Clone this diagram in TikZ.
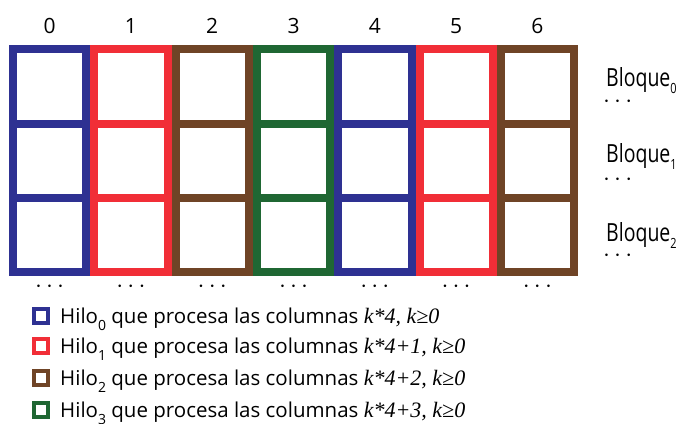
\documentclass[tikz,border=0pt]{standalone}
\usepackage{fontspec}
\setmainfont{Open Sans}
\newfontfamily\formula{Liberation Serif}
\newfontfamily\narrowfont[FakeStretch=0.78]{Open Sans}
\definecolor{hblue}{HTML}{2E3192}
\definecolor{hred}{HTML}{F12E37}
\definecolor{hbrown}{HTML}{6F4426}
\definecolor{hgreen}{HTML}{1F6733}
\tikzset{
  colframe/.style={line width=8pt, draw=#1},
  legendbox/.style={draw=#1, line width=4pt, minimum size=14pt, inner sep=0pt},
  idx/.style={font=\fontsize{21}{21}\selectfont, inner sep=0pt},
  dots/.style={font=\fontsize{30}{30}\selectfont, inner sep=0pt},
  blkdots/.style={dots, anchor=base west},
  blk/.style={font=\narrowfont\fontsize{25}{25}\selectfont, anchor=base west, inner sep=0pt},
  leg/.style={font=\fontsize{20.5}{20.5}\selectfont, anchor=base west, inner sep=0pt},
}
\newcommand{\lowsub}[2]{#1\raisebox{-7pt}{\fontsize{14}{14}\selectfont #2}}
\newcommand{\formtxt}[1]{{\formula\itshape\fontsize{22}{22}\selectfont #1}}
\begin{document}
\begin{tikzpicture}[x=1pt,y=-1pt]
\useasboundingbox (0,0) rectangle (679,423);
% one framed column of three cells per thread colour
\foreach \c [count=\i from 0] in {hblue,hred,hbrown,hgreen,hblue,hred,hbrown}{
  \pgfmathsetmacro\xa{9+81.3*\i+4}
  \pgfmathsetmacro\xb{9+81.3*(\i+1)-4}
  \pgfmathsetmacro\xm{9+81.3*\i+40.65}
  \draw[colframe=\c] (\xa,49) rectangle (\xb,272);
  \draw[colframe=\c] (\xa,123.7) -- (\xb,123.7);
  \draw[colframe=\c] (\xa,198) -- (\xb,198);
  \node[idx] (col\i) at (\xm,26) {\i};
  \node[dots] (more\i) at (\xm,287) {$\cdots$};
}
% block labels, each with its continuation dots below
\node[blk] (b0) at (606,86) {\lowsub{Bloque}{0}};
\node[blkdots] (bd0) at (603,107) {\smash{$\cdots$}};
\node[blk] (b1) at (606,162) {\lowsub{Bloque}{1}};
\node[blkdots] (bd1) at (603,185) {\smash{$\cdots$}};
\node[blk] (b2) at (606,241) {\lowsub{Bloque}{2}};
\node[blkdots] (bd2) at (603,261) {\smash{$\cdots$}};
% legend
\node[legendbox=hblue] (l0) at (41,316) {};
\node[legendbox=hred] (l1) at (41,346) {};
\node[legendbox=hbrown] (l2) at (41,378) {};
\node[legendbox=hgreen] (l3) at (41,410) {};
\node[leg] (t0) at (60,323) {\lowsub{Hilo}{0} que procesa las columnas \formtxt{k*4, k≥0}};
\node[leg] (t1) at (60,353) {\lowsub{Hilo}{1} que procesa las columnas \formtxt{k*4+1, k≥0}};
\node[leg] (t2) at (60,385) {\lowsub{Hilo}{2} que procesa las columnas \formtxt{k*4+2, k≥0}};
\node[leg] (t3) at (60,417) {\lowsub{Hilo}{3} que procesa las columnas \formtxt{k*4+3, k≥0}};
\end{tikzpicture}
\end{document}
